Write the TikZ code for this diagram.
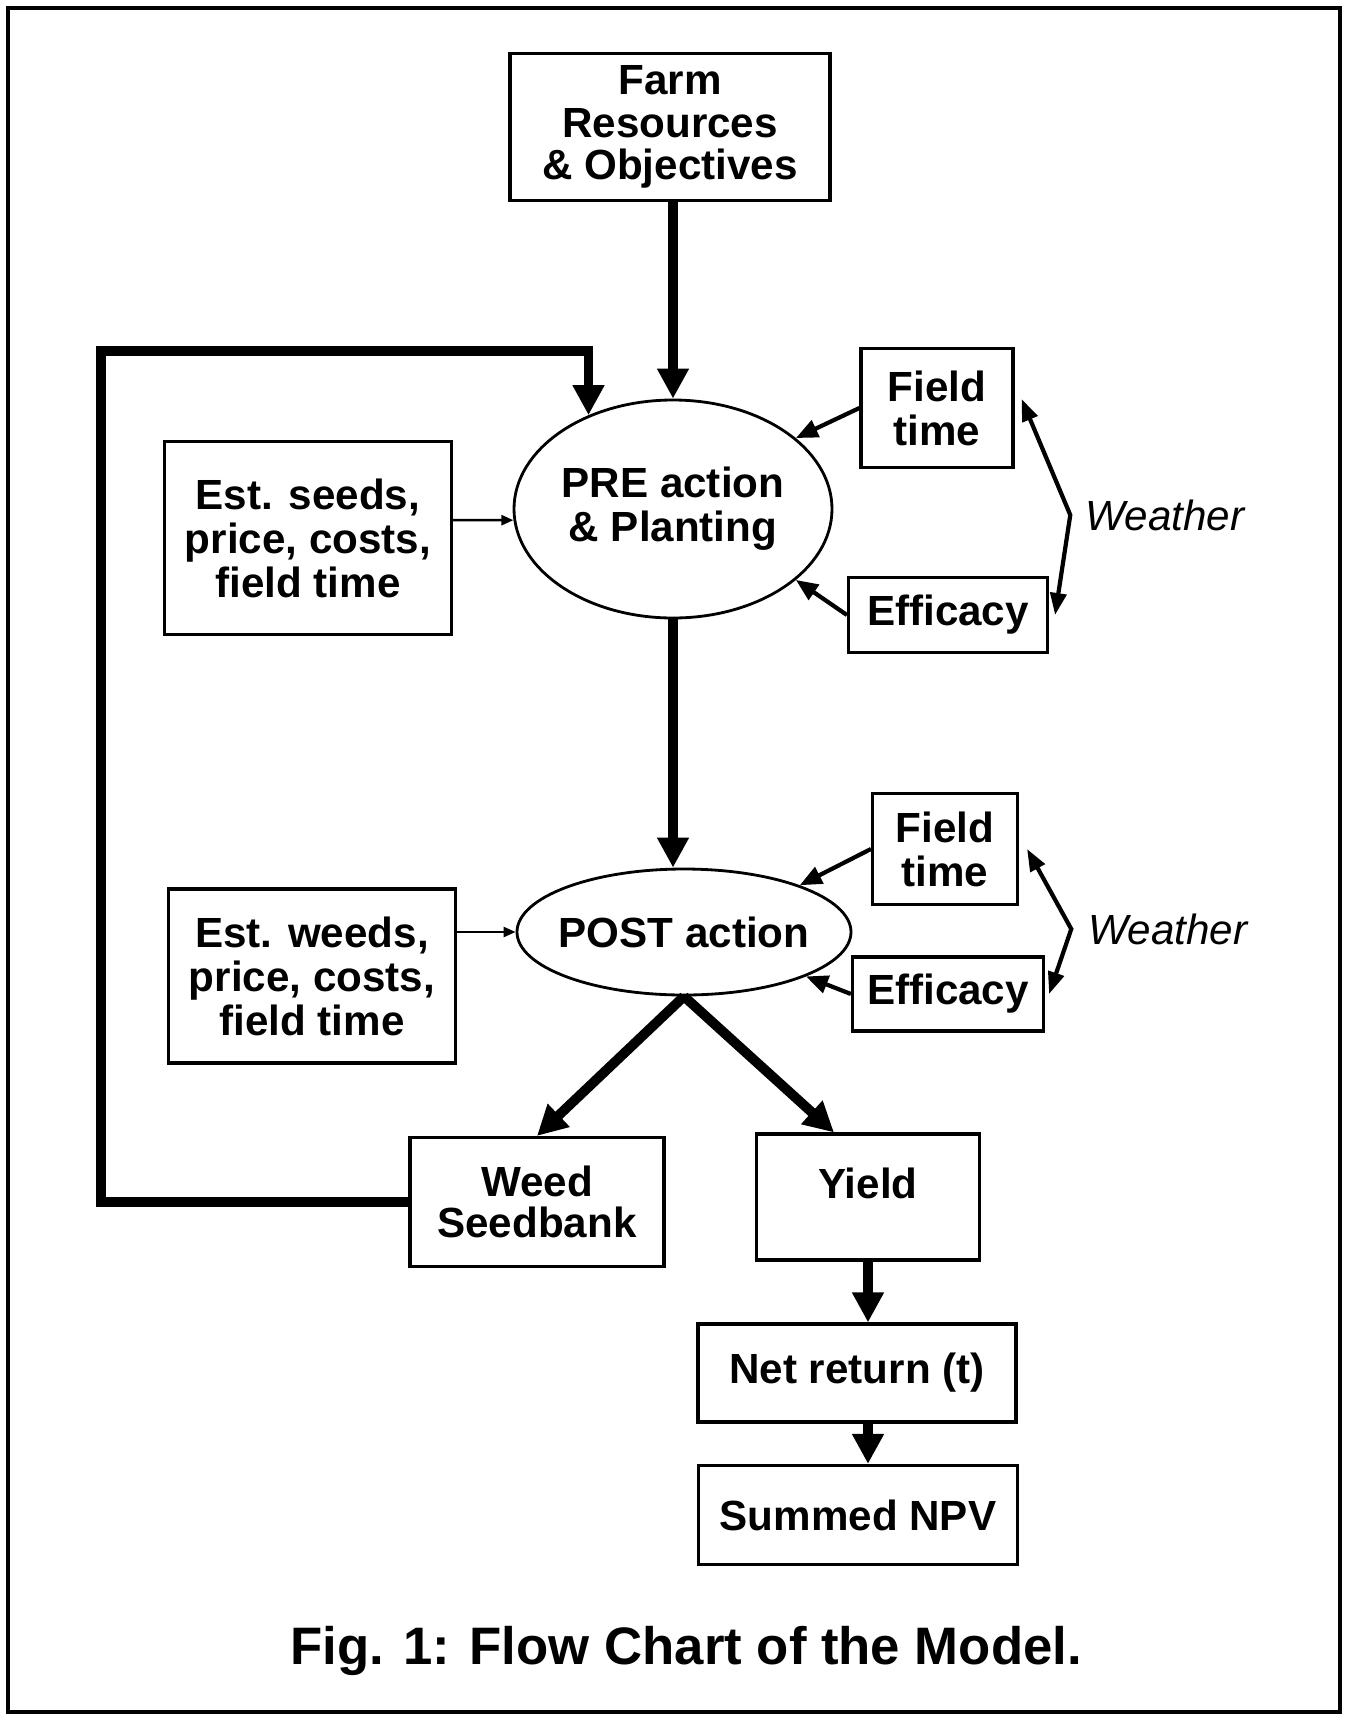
\documentclass[tikz,border=0pt]{standalone}
\usepackage{fontspec}
\setmainfont{Liberation Sans}
\usetikzlibrary{shapes.geometric,arrows.meta}

\begin{document}
\begin{tikzpicture}[
		box/.style={draw, line width=0.9pt, align=center, inner sep=0pt, font=\bfseries\fontsize{12}{12.5}\selectfont},
		oval/.style={draw, ellipse, line width=0.8pt, align=center, inner xsep=-0.1cm, inner ysep=0pt, font=\bfseries\fontsize{12}{12.5}\selectfont},
		mainflow/.style={line width=2.8pt, -{Triangle[length=0.30cm, width=0.30cm]}},
		sideflow/.style={line width=1.2pt, -{Triangle[length=0.22cm, width=0.18cm]}},
		thinflow/.style={line width=0.7pt, -{Triangle[length=0.12cm, width=0.10cm]}},
		brace/.style={line width=1.2pt, {Triangle[length=0.22cm, width=0.16cm]}-{Triangle[length=0.22cm, width=0.16cm]}},
		weather/.style={font=\itshape\fontsize{12}{14}\selectfont}
	]
		\useasboundingbox (0, 0) rectangle (13.49, -17.20);
		\draw[line width=1.1pt] (0.08, -0.08) rectangle (13.40, -17.12);
		
		% main column
		\node[box, minimum width=3.20cm, minimum height=1.47cm, font=\bfseries\fontsize{12}{12}\selectfont] (farm) at (6.70, -1.27) {Farm\\Resources\\\& Objectives};
		\node[oval, minimum width=3.18cm, minimum height=2.18cm] (pre) at (6.73, -5.09) {PRE action\\\& Planting};
		\node[oval, minimum width=3.34cm, minimum height=1.26cm] (post) at (6.84, -9.32) {POST action};
		\node[box, minimum width=2.54cm, minimum height=1.29cm] (bank) at (5.37, -12.02) {Weed\\[-1pt]Seedbank};
		\node[box, minimum width=2.23cm, minimum height=1.26cm, text height=0.30cm, text depth=0.28cm] (yield) at (8.68, -11.97) {Yield};
		\node[box, minimum width=3.18cm, minimum height=0.98cm] (net) at (8.57, -13.73) {Net return (t)};
		\node[box, minimum width=3.19cm, minimum height=0.99cm] (npv) at (8.58, -15.15) {Summed NPV};
		
		% inputs on the left
		\node[box, minimum width=2.87cm, minimum height=1.93cm] (seeds) at (3.08, -5.38) {Est. seeds,\\price, costs,\\field time};
		\node[box, minimum width=2.87cm, minimum height=1.74cm] (weeds) at (3.12, -9.76) {Est. weeds,\\price, costs,\\field time};
		
		% inputs on the right
		\node[box, minimum width=1.52cm, minimum height=1.19cm] (ft1) at (9.37, -4.08) {Field\\time};
		\node[box, minimum width=1.99cm, minimum height=0.75cm] (eff1) at (9.48, -6.15) {Efficacy};
		\node[weather] (w1) at (11.65, -5.15) {Weather};
		\node[box, minimum width=1.45cm, minimum height=1.11cm] (ft2) at (9.45, -8.49) {Field\\time};
		\node[box, minimum width=1.91cm, minimum height=0.74cm] (eff2) at (9.48, -9.94) {Efficacy};
		\node[weather] (w2) at (11.68, -9.29) {Weather};
		
		\node[font=\bfseries\fontsize{15}{18}\selectfont] (caption) at (6.86, -16.51) {Fig. 1: Flow Chart of the Model.};
		
		\coordinate (loopcorner) at (1.01, -3.51);
		
		\draw[mainflow] (farm.south -| pre.north) -- (pre.north);
		\draw[mainflow] (pre.south) -- (post.north -| pre.south);
		\draw[mainflow] (post.south) -- (bank.north);
		\draw[mainflow] (post.south) -- ([xshift=-0.34cm]yield.north);
		\draw[mainflow] (yield.south) -- (yield.south |- net.north);
		\draw[mainflow] (net.south -| yield.south) -- (yield.south |- npv.north);
		\draw[mainflow] (bank.west) -| (loopcorner) -| (pre.132);
		
		\draw[thinflow] (seeds.7) -- (pre.184);
		\draw[thinflow] (weeds.east |- post.west) -- (post.west);
		
		\draw[sideflow] (ft1.west) -- (pre.30);
		\draw[sideflow] (eff1.west) -- (pre.-30);
		\draw[sideflow] (ft2.west) -- (post.22);
		\draw[sideflow] (eff2.west) -- (post.-20);
		
		\draw[brace] ([shift={(0.07,0.09)}]ft1.east) -- ([xshift=-0.03cm]w1.west) -- ([xshift=0.06cm]eff1.east);
		\draw[brace] ([xshift=0.08cm]ft2.east) -- ([xshift=-0.05cm]w2.west) -- ([xshift=0.04cm]eff2.east);
	\end{tikzpicture}
\end{document}
